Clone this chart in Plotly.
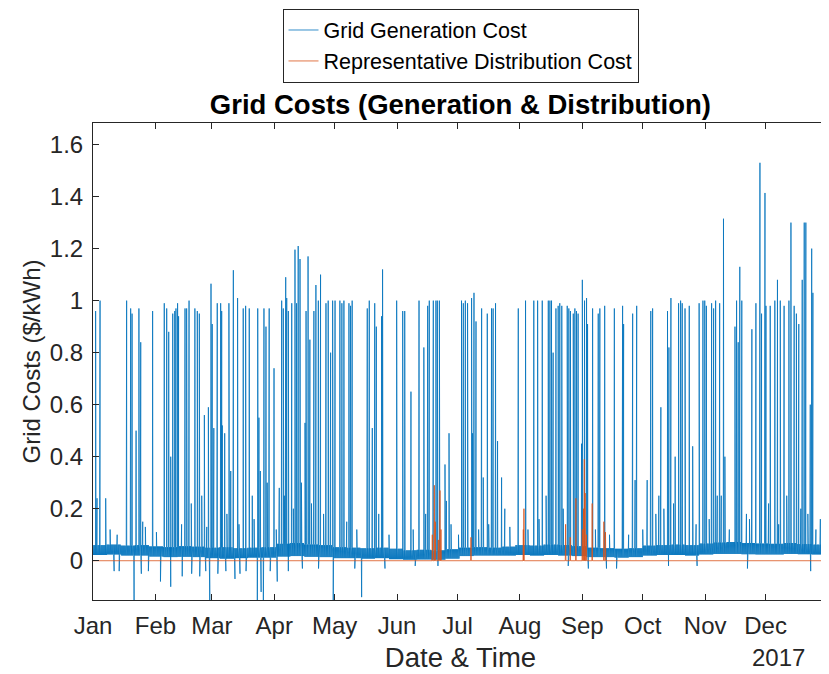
import pandas as pd
import plotly.graph_objects as go

# Weekly band of the hourly generation cost (upper / lower edge, $/kWh), week 0 = first week of Jan
band_hi = [0.060, 0.062, 0.058, 0.060, 0.055, 0.052, 0.056, 0.054, 0.050, 0.052, 0.048, 0.050, 0.052,
           0.065, 0.068, 0.062, 0.060, 0.052, 0.050, 0.048, 0.050, 0.046, 0.040, 0.042, 0.040, 0.044,
           0.050, 0.052, 0.050, 0.054, 0.060, 0.058, 0.062, 0.060, 0.056, 0.050, 0.048, 0.046, 0.048,
           0.058, 0.060, 0.062, 0.060, 0.066, 0.070, 0.072, 0.068, 0.066, 0.065, 0.068, 0.064, 0.062, 0.060]
band_lo = [0.022, 0.024, 0.020, 0.020, 0.016, 0.014, 0.015, 0.014, 0.010, 0.008, 0.010, 0.012, 0.012,
           0.016, 0.018, 0.015, 0.014, 0.010, 0.010, 0.008, 0.010, 0.006, 0.004, 0.005, 0.004, 0.008,
           0.018, 0.020, 0.020, 0.020, 0.022, 0.020, 0.022, 0.020, 0.018, 0.014, 0.014, 0.012, 0.014,
           0.020, 0.022, 0.022, 0.020, 0.024, 0.026, 0.026, 0.025, 0.024, 0.024, 0.026, 0.025, 0.024, 0.024]

# Price spikes of the generation cost (day of year, $/kWh)
spike_day = [1.3, 2.0, 3.5, 6.3, 16.7, 18.7, 19.4, 21.4, 22.8, 23.7, 24.7, 29.6, 35.4, 36.6, 37.6,
             38.6, 39.6, 40.6, 41.2, 42.0, 42.5, 45.7, 46.5, 47.7, 50.6, 51.8, 52.8, 54.0, 55.3,
             57.3, 58.6, 59.2, 60.0, 61.7, 63.4, 63.9, 64.2, 65.4, 67.5, 68.4, 69.7, 71.8, 74.6,
             75.8, 77.6, 79.1, 81.8, 82.4, 83.1, 84.9, 85.9, 87.5, 89.9, 93.7, 94.5, 95.7, 96.2,
             97.0, 98.7, 100.3, 101.1, 101.9, 102.8, 105.3, 105.8, 106.8, 107.7, 109.7, 110.7,
             111.9, 113.0, 115.7, 116.8, 118.0, 119.0, 120.2, 122.6, 123.6, 124.6, 127.1, 127.9,
             128.7, 136.2, 137.2, 138.7, 139.9, 140.7, 141.9, 143.3, 143.8, 150.8, 153.8, 154.8,
             157.9, 161.9, 164.3, 166.2, 167.0, 169.0, 170.3, 171.0, 172.0, 174.8, 175.5, 176.8,
             183.0, 183.9, 184.9, 186.0, 188.0, 188.5, 189.2, 190.2, 193.0, 193.8, 195.8, 197.9,
             198.7, 199.9, 200.9, 202.9, 211.2, 214.8, 218.9, 220.8, 223.1, 226.1, 226.9, 227.7,
             228.5, 229.9, 231.0, 231.8, 232.8, 235.5, 236.3, 237.1, 238.5, 239.3, 240.1, 240.9,
             242.6, 243.0, 244.1, 245.1, 245.6, 248.1, 250.9, 251.7, 254.1, 258.9, 263.0, 263.5,
             268.0, 269.2, 270.0, 275.2, 277.0, 277.9, 281.0, 282.0, 285.3, 286.0, 287.0, 289.1,
             290.8, 291.8, 292.6, 294.0, 296.1, 297.8, 301.0, 302.9, 303.8, 304.6, 307.2, 308.2,
             309.2, 310.0, 311.2, 313.1, 313.8, 318.8, 319.6, 320.4, 321.2, 322.2, 327.2, 329.2,
             331.2, 332.0, 333.7, 334.2, 336.3, 338.6, 339.9, 341.3, 343.2, 345.6, 346.6, 348.2,
             349.3, 350.5, 352.2, 353.2, 354.0, 356.2, 356.9, 357.5, 361.2]
spike_val = [0.96, 0.24, 1.0, 0.24, 1.0, 0.97, 0.95, 0.5, 0.97, 0.84, 0.15, 0.96, 0.99, 0.97, 0.88,
             0.40, 0.95, 0.96, 0.97, 0.99, 0.94, 0.97, 0.97, 1.0, 0.97, 0.96, 0.95, 0.25, 0.56,
             0.59, 1.065, 0.91, 0.51, 0.99, 0.99, 0.96, 0.52, 0.49, 0.99, 0.345, 1.117, 1.01, 0.97,
             0.98, 0.97, 0.25, 0.97, 0.55, 0.345, 0.97, 0.9, 0.97, 0.74, 1.0, 0.97, 1.09, 1.01,
             0.96, 0.99, 1.196, 0.99, 1.21, 1.16, 0.53, 0.96, 1.17, 0.85, 0.96, 1.06,
             1.0, 1.10, 0.99, 1.0, 0.80, 1.0, 1.0, 1.0, 0.99, 1.0, 0.99, 0.98,
             1.0, 0.97, 1.0, 0.51, 0.99, 0.90, 0.18, 0.94, 1.12, 1.0, 0.96, 0.96,
             0.65, 1.0, 0.82, 0.98, 1.0, 1.0, 1.0, 1.0, 1.0, 0.37, 0.23, 0.49,
             1.0, 0.99, 1.0, 0.99, 1.01, 0.49, 1.03, 0.92, 0.97, 0.32, 0.95, 0.97,
             0.97, 0.99, 0.46, 0.32, 0.97, 1.0, 1.0, 1.0, 1.0, 1.0, 1.0, 1.0,
             0.8, 0.97, 0.98, 0.99, 0.98, 0.98, 0.97, 0.96, 0.95, 0.97, 0.96, 0.95,
             0.45, 1.08, 1.0, 1.01, 0.91, 0.97, 0.95, 0.97, 0.98, 0.97, 0.98, 0.91,
             0.95, 0.31, 0.98, 0.31, 0.96, 0.97, 0.25, 0.59, 0.96, 0.82, 1.01, 0.40,
             0.99, 1.0, 0.99, 0.97, 0.98, 0.44, 0.99, 1.0, 1.0, 0.98, 0.99, 0.97,
             1.0, 0.25, 0.99, 1.315, 0.40, 0.90, 1.0, 0.84, 1.13, 1.0, 0.89, 0.99,
             1.53, 0.95, 1.414, 0.98, 0.98, 1.0, 1.08, 1.0, 0.98, 1.0, 1.30, 0.98,
             0.95, 0.91, 1.08, 1.30, 1.30, 0.60, 1.20, 1.03, 0.16]

# Smaller bumps and negative dips of the generation cost
bump_day = [8.5, 12.0, 26.0, 31.5, 44.0, 48.8, 56.5, 66.5, 72.5, 80.0, 86.5, 91.0, 92.5, 95.0,
            99.5, 103.5, 108.5, 114.5, 126.0, 131.0, 147.0, 159.0, 165.2, 177.8, 181.5, 191.5,
            196.5, 204.5, 207.0, 216.0, 221.5, 225.0, 233.5, 249.5, 256.5, 266.0, 273.0, 279.5,
            283.5, 288.3, 299.5, 306.0, 312.0, 316.0, 324.5, 326.0, 335.5, 340.5, 344.5, 351.5,
            355.0, 359.0, 363.0]
bump_val = [0.12, 0.10, 0.13, 0.11, 0.14, 0.22, 0.13, 0.18, 0.14, 0.16, 0.30, 0.12, 0.28, 0.25,
            0.20, 0.30, 0.22, 0.18, 0.15, 0.12, 0.10, 0.12, 0.18, 0.14, 0.10, 0.12,
            0.14, 0.20, 0.13, 0.12, 0.16, 0.25, 0.20, 0.12, 0.10, 0.10, 0.12, 0.18,
            0.20, 0.22, 0.14, 0.16, 0.25, 0.12, 0.18, 0.16, 0.22, 0.14, 0.25, 0.20,
            0.18, 0.12, 0.10]
dip_day = [10.5, 13.0, 20.4, 24.0, 27.5, 33.5, 38.6, 44.3, 49.0, 53.0, 56.0, 58.0, 62.0, 66.0,
           70.5, 73.0, 76.0, 81.6, 83.5, 84.6, 88.0, 91.5, 97.0, 104.0, 112.0, 119.3, 130.0,
           133.4, 145.0, 160.0, 171.3, 236.0, 246.0, 255.0, 260.0, 285.8, 300.0, 325.0, 356.4]
dip_val = [-0.04, -0.04, -0.16, -0.05, -0.04, -0.08, -0.10, -0.06, -0.05, -0.06, -0.04, -0.16,
           -0.05, -0.04, -0.07, -0.05, -0.04, -0.16, -0.12, -0.16, -0.04, -0.08, -0.04, -0.03,
           -0.03, -0.16, -0.03, -0.14, -0.03, -0.02, -0.02, -0.02, -0.03, -0.03, -0.03, -0.02,
           -0.02, -0.03, -0.04]

# Representative distribution cost: zero except for short peaks
dist_day = [168.5, 169.5, 170.0, 171.5, 172.3, 172.8, 187.7, 213.7, 214.0, 234.7, 237.0, 239.8,
            243.0, 243.6, 244.0, 244.4, 245.0, 247.9, 253.7, 254.5]
dist_val = [0.10, 0.29, 0.15, 0.08, 0.27, 0.12, 0.09, 0.12, 0.20, 0.14, 0.09, 0.24,
            0.12, 0.20, 0.39, 0.26, 0.10, 0.22, 0.15, 0.11]

month_ticks = pd.date_range("2017-01-01", "2017-12-01", freq="MS")
month_labels = [d.strftime("%b") for d in month_ticks]

start = pd.Timestamp("2017-01-01")


def to_time(days):
    return start + pd.to_timedelta(pd.Series(days, dtype=float), unit="D")


# Generation cost: band zig-zag every quarter day plus the peaks
n_base = 1460
base_days = [k * 0.25 for k in range(n_base)]
base_vals = [band_hi[min(k // 28, 52)] if k % 2 == 0 else band_lo[min(k // 28, 52)] for k in range(n_base)]
gen = pd.DataFrame({
    "day": base_days + spike_day + bump_day + dip_day,
    "val": base_vals + spike_val + bump_val + dip_val,
}).sort_values("day")

# Distribution cost: zero baseline with narrow peaks
d_days = [0.0, 364.96]
d_vals = [0.0, 0.0]
for d, v in zip(dist_day, dist_val):
    d_days += [d - 0.15, d, d + 0.15]
    d_vals += [0.0, v, 0.0]
dist = pd.DataFrame({"day": d_days, "val": d_vals}).sort_values("day")

fig = go.Figure()
fig.add_trace(go.Scatter(
    x=to_time(gen["day"]), y=gen["val"], mode="lines", name="Grid Generation Cost",
    line=dict(color="#0072BD", width=0.8, simplify=False),
))
fig.add_trace(go.Scatter(
    x=to_time(dist["day"]), y=dist["val"], mode="lines", name="Representative Distribution Cost",
    line=dict(color="#D95319", width=0.8, simplify=False),
))

# the page keeps the browser's 8px body margin, so the figure is 8px smaller
font_family = "Liberation Sans, Arial, sans-serif"
axis_font = dict(family=font_family, size=24, color="#262626")
fig.update_layout(
    width=821,
    height=666,
    margin=dict(l=85, r=1, t=115, b=74, autoexpand=False),
    paper_bgcolor="white",
    plot_bgcolor="white",
    font=dict(family=font_family, color="#262626"),
    title=dict(
        text="<b>Grid Costs (Generation & Distribution)</b>",
        x=0.551, xanchor="center", y=0.856, yanchor="middle",
        font=dict(size=27.5, color="black"),
    ),
    legend=dict(
        x=0.5, xanchor="center", y=1.24, yanchor="top",
        bordercolor="#262626", borderwidth=1, bgcolor="white",
        font=dict(size=21.5, color="black"),
        tracegroupgap=0, itemwidth=30,
    ),
    showlegend=True,
)
fig.update_xaxes(
    range=[start, pd.Timestamp("2018-01-01")],
    tickvals=month_ticks, ticktext=month_labels,
    ticks="inside", ticklen=6, tickcolor="#262626",
    showline=True, linecolor="#262626", linewidth=1, mirror="ticks",
    showgrid=False, zeroline=False, tickfont=axis_font, ticklabelstandoff=4,
    title=dict(text="Date & Time", font=dict(size=27.5, color="#262626"), standoff=9),
)
fig.update_yaxes(
    range=[-0.151, 1.683], tick0=0, dtick=0.2,
    ticks="inside", ticklen=6, tickcolor="#262626",
    showline=True, linecolor="#262626", linewidth=1, mirror="ticks",
    showgrid=False, zeroline=False, tickfont=axis_font, ticklabelstandoff=4,
    title=dict(text="Grid Costs ($/kWh)", font=dict(size=24, color="#262626"), standoff=2),
)
fig.add_annotation(
    text="2017", xref="paper", yref="paper", x=0.932, y=-0.12,
    xanchor="center", yanchor="middle", showarrow=False,
    font=dict(size=24, color="#262626"),
)

fig.write_html("out.html")
